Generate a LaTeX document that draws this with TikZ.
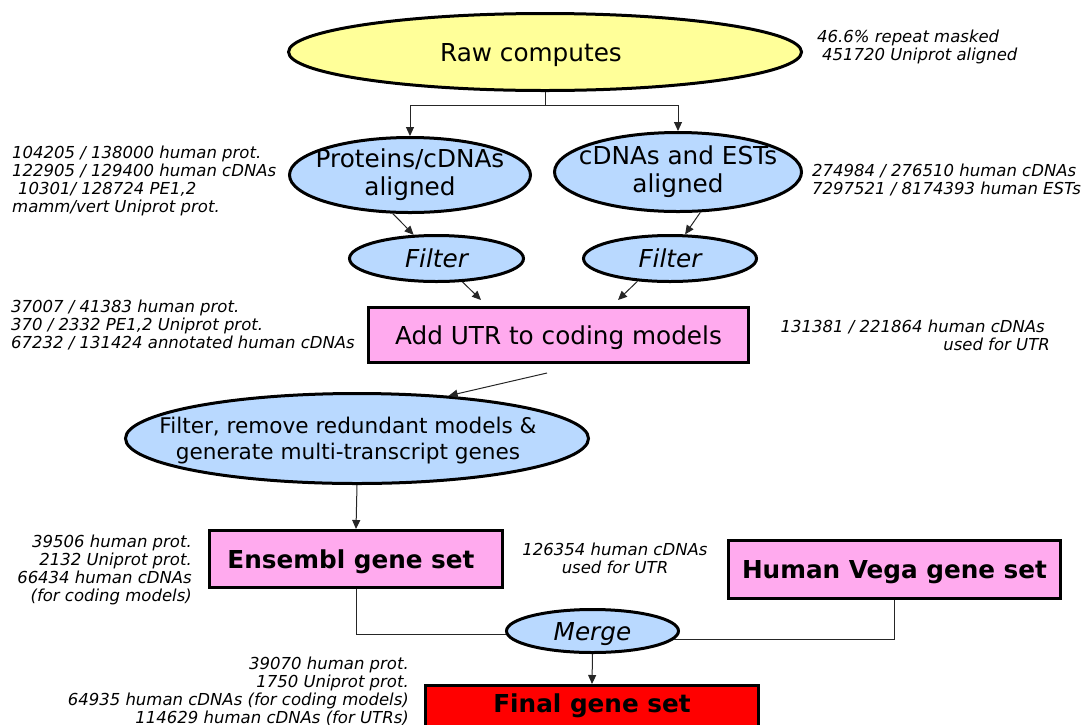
\documentclass[tikz,border=0pt]{standalone}
\usepackage{fontspec}
\setmainfont{DejaVu Sans}
\usepackage{xcolor}
\usetikzlibrary{shapes.geometric,arrows.meta}

\definecolor{rawyellow}{HTML}{FFFF99}
\definecolor{stepblue}{HTML}{B9D9FF}
\definecolor{setpink}{HTML}{FFAAEE}

\begin{document}
\begin{tikzpicture}[x=1pt, y=-1pt,
    >={Triangle[length=9pt,width=8pt]},
    blob/.style={shape=ellipse, draw, line width=3pt, fill=stepblue, inner xsep=-30pt, inner ysep=-5pt, align=center, font=\fontsize{24.7}{28}\selectfont},
    stagebox/.style={shape=rectangle, draw, line width=3pt, fill=setpink, inner sep=0pt, text depth=0pt, font=\fontsize{24.7}{28}\selectfont},
    note/.style={inner sep=0pt, font=\fontsize{16.5}{18}\selectfont\itshape},
    link/.style={line width=1pt, color=black!85}]
    \useasboundingbox (0,0) rectangle (1082,724);

    % stages
    \node[blob, fill=rawyellow, text depth=0pt, minimum width=513, minimum height=77] (raw) at (545,52) {Raw computes\hspace*{28pt}};
    \node[blob, minimum width=241, minimum height=75] (prot) at (410,175) {Proteins/cDNAs\\aligned};
    \node[blob, minimum width=247, minimum height=79] (est) at (678,172) {cDNAs and ESTs\\aligned};
    \node[blob, minimum width=174, minimum height=46] (fil1) at (436.5,258.5) {\itshape Filter};
    \node[blob, minimum width=173, minimum height=46] (fil2) at (670,258.5) {\itshape Filter};
    \node[stagebox, minimum width=380, minimum height=55] (utr) at (558.5,335) {Add UTR to coding models};
    \node[blob, text depth=0pt, inner xsep=-45pt, minimum width=463, minimum height=90, font=\fontsize{21.6}{26}\selectfont] (filt) at (357,438.5) {Filter, remove redundant models \&\hspace*{18pt}\\generate multi-transcript genes\hspace*{18pt}};
    \node[stagebox, minimum width=293, minimum height=57, font=\fontsize{24.7}{28}\selectfont\bfseries] (ens) at (356,559) {Ensembl gene set\hspace*{10pt}};
    \node[stagebox, minimum width=332, minimum height=58, font=\fontsize{24.7}{28}\selectfont\bfseries] (vega) at (894.5,569.5) {Human Vega gene set};
    \node[blob, text depth=0pt, minimum width=172, minimum height=43] (merge) at (592.5,631) {\itshape Merge};
    \node[stagebox, fill=red, anchor=north, minimum width=333, text height=25pt, text depth=30pt, inner ysep=2pt, font=\fontsize{24.7}{28}\selectfont\bfseries] (final) at (592,684) {Final gene set};

    % connectors
    \coordinate (split) at (545,105);
    \draw[link,->] (raw.south) -- (split) -| (prot.north);
    \draw[link,->] (split) -| (est.north);
    \draw[link,->] (prot.-114) -- (fil1.134);
    \draw[link,->] (est.-61) -- (fil2.58);
    \coordinate (utrin1) at (481,300);
    \coordinate (utrin2) at (618,300);
    \draw[link,->] (fil1.-42) -- (utrin1);
    \draw[link,->] (fil2.-145) -- (utrin2);
    \coordinate (utrout) at (547,373);
    \draw[link,->] (utrout) -- (filt.25);
    \draw[link,->] (filt.south) -- (ens.north);
    \draw[link] (ens.south) |- (merge.182);
    \draw[link] (vega.south) |- (merge.-6);
    \draw[link,->] (merge.south) -- (final.north);

    % counts
    \node[note, anchor=north west, align=left] (rawnote) at (817,30) {46.6\% repeat masked\\\hspace*{5pt}451720 Uniprot aligned};
    \node[note, anchor=north west, align=left] (protnote) at (12,146) {104205 / 138000 human prot.\\122905 / 129400 human cDNAs\\\hspace*{6pt}10301/ 128724 PE1,2\\mamm/vert Uniprot prot.};
    \node[note, anchor=north west, align=left] (estnote) at (812,164) {274984 / 276510 human cDNAs\\7297521 / 8174393 human ESTs};
    \node[note, anchor=north west, align=left] (utrnote) at (11,300) {37007 / 41383 human prot.\\370 / 2332 PE1,2 Uniprot prot.\\67232 / 131424 annotated human cDNAs};
    \node[note, anchor=north east, align=right] (usednote) at (1050,320) {131381 / 221864 human cDNAs\hspace*{5pt}\\used for UTR};
    \node[note, anchor=north east, align=right] (ensnote) at (192,535) {39506 human prot.\\2132 Uniprot prot.\\66434 human cDNAs\hspace*{8pt}\\(for coding models)};
    \node[note, anchor=north, align=center] (cdnanote) at (615,543) {126354 human cDNAs\\used for UTR};
    \node[note, anchor=north east, align=right] (finalnote) at (409,657) {39070 human prot.\\1750 Uniprot prot.\\64935 human cDNAs (for coding models)\\114629 human cDNAs (for UTRs)};
  \end{tikzpicture}
\end{document}
